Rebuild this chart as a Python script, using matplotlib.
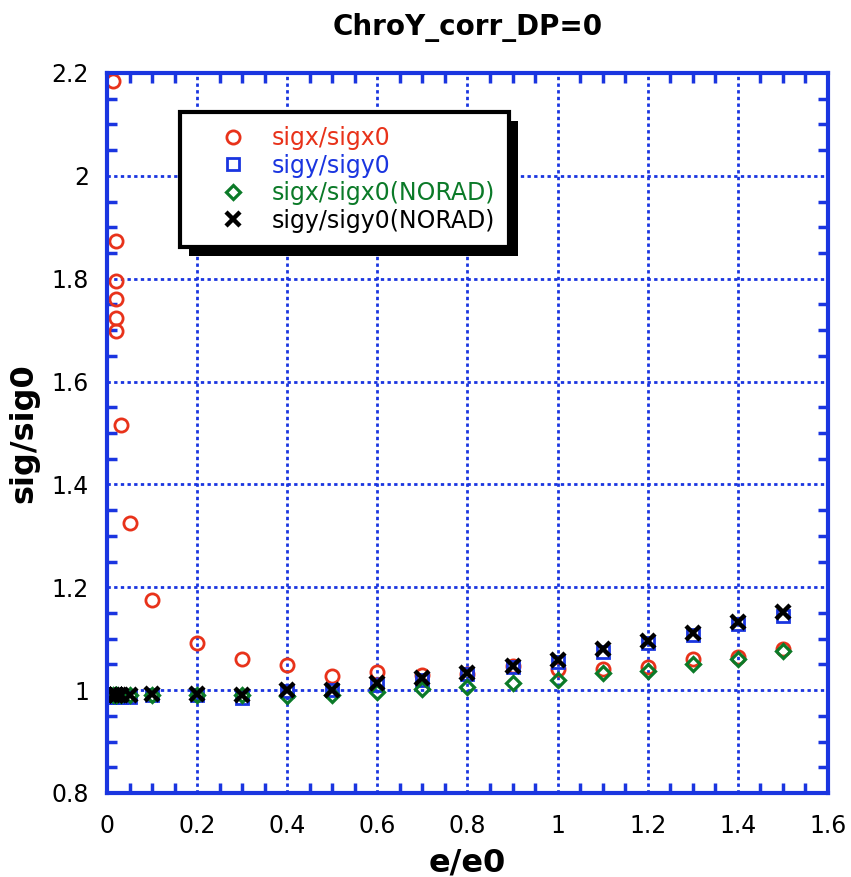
import numpy as np
import matplotlib
matplotlib.use("Agg")
import matplotlib.pyplot as plt
from matplotlib.patches import Rectangle
from matplotlib.ticker import MultipleLocator

# data
e_e0 = [0.013, 0.021, 0.021, 0.02, 0.02, 0.02, 0.032, 0.05, 0.1, 0.2, 0.3, 0.4,
        0.5, 0.6, 0.7, 0.8, 0.9, 1.0, 1.1, 1.2, 1.3, 1.4, 1.5]
sigx = [2.185, 1.873, 1.796, 1.76, 1.724, 1.698, 1.516, 1.325, 1.175, 1.091, 1.061, 1.049,
        1.028, 1.035, 1.029, 1.032, 1.047, 1.041, 1.041, 1.045, 1.06, 1.065, 1.08]
sigy = [0.987, 0.987, 0.987, 0.987, 0.987, 0.987, 0.987, 0.987, 0.99, 0.99, 0.985, 0.998,
        1.0, 1.01, 1.02, 1.032, 1.045, 1.055, 1.075, 1.091, 1.107, 1.128, 1.144]
sigx_norad = [0.99, 0.99, 0.99, 0.99, 0.99, 0.99, 0.99, 0.99, 0.99, 0.99, 0.99, 0.989,
              0.99, 0.996, 1.003, 1.007, 1.013, 1.02, 1.034, 1.038, 1.05, 1.06, 1.076]
sigy_norad = [0.99, 0.99, 0.99, 0.99, 0.99, 0.99, 0.99, 0.99, 0.992, 0.992, 0.99, 1.0,
              1.0, 1.013, 1.023, 1.034, 1.047, 1.059, 1.079, 1.095, 1.111, 1.132, 1.152]
xtick_labels = ["0", "0.2", "0.4", "0.6", "0.8", "1", "1.2", "1.4", "1.6"]
ytick_labels = ["0.8", "1", "1.2", "1.4", "1.6", "1.8", "2", "2.2"]

red = "#e8321a"
blue = "#1a35e0"
green = "#0b7a28"

fig = plt.figure(figsize=(8.51, 8.77), dpi=100)
ax = fig.add_axes([0.1257, 0.0958, 0.8473, 0.821])

ax.plot(e_e0, sigx, "o", ms=9.5, mfc="none", mec=red, mew=2, label="sigx/sigx0")
ax.plot(e_e0, sigy, "s", ms=9, mfc="none", mec=blue, mew=2, label="sigy/sigy0")
ax.plot(e_e0, sigx_norad, "D", ms=6.8, mfc="none", mec=green, mew=2.3, label="sigx/sigx0(NORAD)")
ax.plot(e_e0, sigy_norad, "x", ms=9.5, color="black", mew=3.2, label="sigy/sigy0(NORAD)")

ax.set_xlim(0, 1.6)
ax.set_ylim(0.8, 2.2)
ax.xaxis.set_minor_locator(MultipleLocator(0.05))
ax.yaxis.set_minor_locator(MultipleLocator(0.05))
ax.set_xticks(np.arange(0, 1.61, 0.2))
ax.set_xticklabels(xtick_labels)
ax.set_yticks(np.arange(0.8, 2.21, 0.2))
ax.set_yticklabels(ytick_labels)

ax.grid(True, which="major", color=blue, linestyle=(0, (1.2, 1.2)), linewidth=2)
ax.tick_params(which="both", direction="in", top=True, right=True, color=blue,
               labelsize=17, width=2.5)
ax.tick_params(which="major", length=0)
ax.tick_params(axis="x", which="major", pad=15)
ax.tick_params(axis="y", which="major", pad=13)
ax.tick_params(which="minor", length=7)
for s in ax.spines.values():
    s.set_color(blue)
    s.set_linewidth(3)

ax.set_title("ChroY_corr_DP=0", fontsize=20, fontweight="bold", pad=27)
ax.set_xlabel("e/e0", fontsize=23, fontweight="bold")
ax.set_ylabel("sig/sig0", fontsize=23, fontweight="bold")
ax.xaxis.set_label_coords(0.5, -0.076)
ax.yaxis.set_label_coords(-0.094, 0.5)

leg = ax.legend(loc="upper left", bbox_to_anchor=(0.101, 0.946), fontsize=17,
                frameon=True, fancybox=False, edgecolor="black", framealpha=1,
                labelcolor=[red, blue, green, "black"], handletextpad=0.0,
                borderpad=0.6, labelspacing=0.15, handlelength=3.3,
                borderaxespad=0)
leg.get_frame().set_linewidth(3)

# 3d style shadow under the legend box
fig.canvas.draw()
bb = leg.get_window_extent()
inv = fig.transFigure.inverted()
(x0, y0) = inv.transform((bb.x0 + 9, bb.y0 - 9))
(x1, y1) = inv.transform((bb.x1 + 9, bb.y1 - 9))
shadow = Rectangle((x0, y0), x1 - x0, y1 - y0, transform=fig.transFigure,
                   facecolor="black", edgecolor="none", zorder=4.9)
ax.add_artist(shadow)
shadow.set_clip_on(False)

fig.savefig("out.png", dpi=100)
